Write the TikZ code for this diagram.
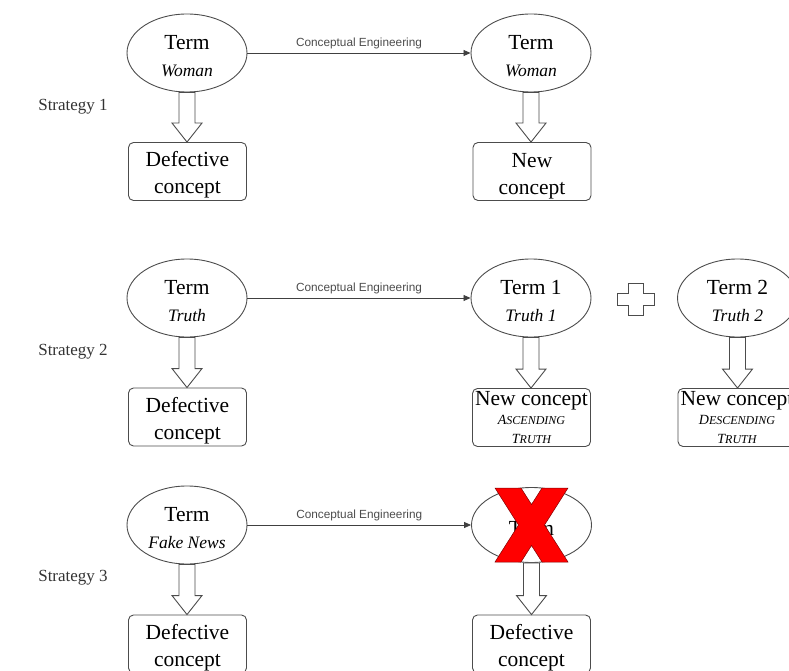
\documentclass[tikz,border=0pt]{standalone}
\usepackage{fontspec}
\setmainfont{Liberation Serif}
\setsansfont{Liberation Sans}
\usetikzlibrary{arrows.meta,shapes.geometric,calc}

% italic word under a term, fake small caps
\newcommand{\termword}[1]{{\fontsize{17.5}{27}\selectfont\itshape #1}}
\newcommand{\fakesc}[2]{{\itshape\fontsize{14}{19}\selectfont #1{\fontsize{12}{19}\selectfont #2}}}
% taller first line pushes the text down a little
\newcommand{\lowstrut}[1]{\rule{0pt}{#1}}
% hollow block arrow from a term down to its concept
\newcommand{\hollowarrow}[2]{%
  \draw[hollow] let \p1=(#1.south), \p2=(#2.north) in
    (\x1-8pt,\y1) -- (\x1-8pt,\y2+19pt) -- (\x1-15pt,\y2+19pt) -- (\x1,\y2)
    -- (\x1+15pt,\y2+19pt) -- (\x1+8pt,\y2+19pt) -- (\x1+8pt,\y1) -- cycle;}

\begin{document}
\begin{tikzpicture}[x=1pt,y=-1pt]
\tikzset{
  termnode/.style={ellipse,draw=black!70,line width=0.9pt,minimum width=120pt,minimum height=78pt,inner sep=0pt,align=center,font=\fontsize{21.5}{27}\selectfont},
  conceptbox/.style={rectangle,rounded corners=5pt,draw=black!70,line width=0.9pt,minimum width=118pt,minimum height=58pt,inner sep=0pt,align=center,font=\fontsize{21.5}{27}\selectfont},
  strategy/.style={font=\fontsize{17}{20}\selectfont,text=black!80},
  engineering/.style={-{Triangle[length=7pt,width=6pt]},draw=black!75,line width=0.8pt},
  englabel/.style={font=\sffamily\fontsize{11.8}{13}\selectfont,text=black!70,above=0pt,midway},
  hollow/.style={draw=black!70,line width=0.9pt,fill=white}
}
\useasboundingbox (0,0) rectangle (789,671);
\clip (0,0) rectangle (789,671);

% strategy 1
\node[strategy] (s_1) at (73,107) {Strategy 1};
\node[termnode] (t_1a) at (187,53) {\lowstrut{20.5pt}Term\\\termword{Woman}};
\node[termnode] (t_1b) at (531,53) {\lowstrut{20.5pt}Term\\\termword{Woman}};
\node[conceptbox] (c_1a) at (187.5,171.5) {\lowstrut{22.5pt}Defective\\concept};
\node[conceptbox] (c_1b) at (532,171.5) {\lowstrut{24pt}New\\concept};
\draw[engineering] (t_1a) -- node[englabel] {Conceptual Engineering} (t_1b);
\hollowarrow{t_1a}{c_1a}
\hollowarrow{t_1b}{c_1b}

% strategy 2
\node[strategy] (s_2) at (73,352) {Strategy 2};
\node[termnode] (t_2a) at (187,298) {\lowstrut{20.5pt}Term\\\termword{Truth}};
\node[termnode] (t_2b) at (531,298) {\lowstrut{20.5pt}Term 1\\\termword{Truth 1}};
\node[termnode] (t_2c) at (737.5,298) {\lowstrut{20.5pt}Term 2\\\termword{Truth 2}};
\node[conceptbox] (c_2a) at (187.5,417) {\lowstrut{22.5pt}Defective\\concept};
\node[conceptbox] (c_2b) at (531.5,417.5) {New concept\\[-8pt]\fakesc{A}{SCENDING}\\[-8pt]\fakesc{T}{RUTH}};
\node[conceptbox] (c_2c) at (737,417.5) {New concept\\[-8pt]\fakesc{D}{ESCENDING}\\[-8pt]\fakesc{T}{RUTH}};
\draw[engineering] (t_2a) -- node[englabel] {Conceptual Engineering} (t_2b);
\hollowarrow{t_2a}{c_2a}
\hollowarrow{t_2b}{c_2b}
\hollowarrow{t_2c}{c_2c}
\begin{scope}[shift={(636,299)}]
  \draw[hollow] (-7.5,-16) -- (7.5,-16) -- (7.5,-6) -- (18.5,-6) -- (18.5,6) -- (7.5,6)
    -- (7.5,16) -- (-7.5,16) -- (-7.5,6) -- (-18.5,6) -- (-18.5,-6) -- (-7.5,-6) -- cycle;
\end{scope}

% strategy 3
\node[strategy] (s_3) at (73,578) {Strategy 3};
\node[termnode] (t_3a) at (187,525) {\lowstrut{20.5pt}Term\\\termword{Fake News}};
\node[termnode,minimum height=75pt] (t_3b) at (531.5,525) {\lowstrut{20.5pt}Term};
\node[conceptbox] (c_3a) at (187.5,644) {\lowstrut{22.5pt}Defective\\concept};
\node[conceptbox] (c_3b) at (531.5,644) {\lowstrut{22.5pt}Defective\\concept};
\draw[engineering] (t_3a) -- node[englabel] {Conceptual Engineering} (t_3b);
\hollowarrow{t_3a}{c_3a}
\hollowarrow{t_3b}{c_3b}
\begin{scope}[shift={(t_3b.center)}]
  \draw[fill=red,draw=red!50!black,line width=0.5pt] (-36.5,-37) -- (-10.5,-37) -- (0,-20.5) -- (10.5,-37)
    -- (36.5,-37) -- (13,0) -- (36.5,37) -- (10.5,37) -- (0,20.5) -- (-10.5,37)
    -- (-36.5,37) -- (-13,0) -- cycle;
\end{scope}
\end{tikzpicture}
\end{document}
